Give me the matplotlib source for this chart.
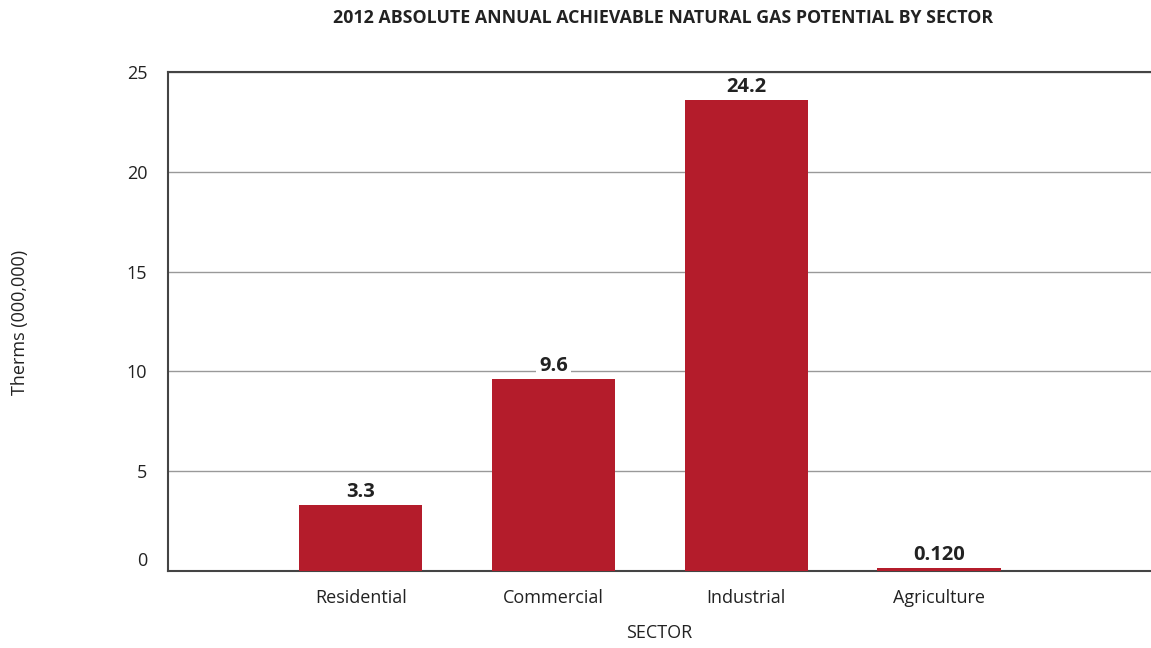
import matplotlib
matplotlib.use('Agg')
import matplotlib.pyplot as plt
import matplotlib.transforms as mtransforms

# 데이터
sectors = ['Residential', 'Commercial', 'Industrial', 'Agriculture']
therms = [3.3, 9.6, 23.6, 0.12]
value_labels = ['3.3', '9.6', '24.2', '0.120']
y_ticks = [0, 5, 10, 15, 20, 25]

plt.rcParams['font.family'] = ['Open Sans', 'DejaVu Sans']

fig = plt.figure(figsize=(11.51, 6.48), dpi=100)
ax = fig.add_axes([0.146, 0.119, 0.854, 0.770])

x = range(len(sectors))
ax.bar(x, therms, width=0.64, color='#B41C2B', zorder=3)

# 막대 위 값 표시 (흰 배경으로 격자선 가림)
for i, (v, lab) in enumerate(zip(therms, value_labels)):
    ax.text(i, v + 0.15, lab, ha='center', va='bottom', fontsize=14.5,
            fontweight='bold', color='#222222', zorder=4,
            bbox=dict(facecolor='white', edgecolor='none', pad=2))

ax.set_xlim(-1.0, 4.1)
ax.set_ylim(0, 25)
ax.set_yticks(y_ticks)
ax.set_xticks(list(x))
ax.set_xticklabels(sectors)
ax.tick_params(axis='both', length=0, labelsize=13, colors='#222222')
ax.tick_params(axis='y', pad=15)
ax.tick_params(axis='x', pad=13)

# 0 라벨은 축선보다 살짝 위에 있음
fig.canvas.draw()
zero_lab = ax.get_yticklabels()[0]
zero_lab.set_transform(zero_lab.get_transform() +
                       mtransforms.ScaledTranslation(0, 12 / 100, fig.dpi_scale_trans))

ax.yaxis.grid(True, color='#999999', linewidth=1.0, zorder=0)
ax.set_axisbelow(True)

for side in ['left', 'top', 'bottom']:
    ax.spines[side].set_color('#444444')
    ax.spines[side].set_linewidth(1.5)
ax.spines['right'].set_visible(False)

ax.set_xlabel('SECTOR', fontsize=13, color='#222222', labelpad=12)
fig.text(0.017, 0.503, 'Therms (000,000)', rotation=90, ha='center',
         va='center', fontsize=13, color='#222222')
fig.text(0.576, 0.972, '2012 ABSOLUTE ANNUAL ACHIEVABLE NATURAL GAS POTENTIAL BY SECTOR',
         ha='center', va='center', fontsize=12.8, fontweight='bold', color='#222222')

fig.savefig('out.png', dpi=100)
